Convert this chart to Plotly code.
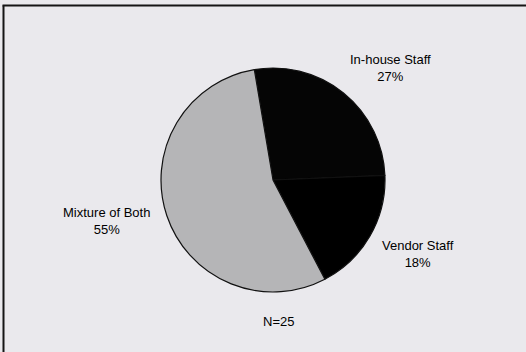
import plotly.graph_objects as go

categories = ["In-house Staff", "Vendor Staff", "Mixture of Both"]
values = [27, 18, 55]
note = "N=25"

W, H = 526, 352
colors = ["#050505", "#000000", "#b5b5b7"]

fig = go.Figure()
fig.add_trace(go.Pie(
    labels=categories,
    values=values,
    sort=False,
    direction="clockwise",
    rotation=-9.6,
    textinfo="none",
    hoverinfo="label+percent",
    marker=dict(colors=colors, line=dict(color="#111111", width=1.2)),
    domain=dict(x=[161 / W, 385 / W], y=[(H - 292) / H, (H - 68) / H]),
    showlegend=False,
))

label_pos = [(390, 68), (418, 254), (106, 221)]
total = sum(values)
for cat, val, (px, py) in zip(categories, values, label_pos):
    fig.add_annotation(
        x=px / W, y=1 - py / H, xref="paper", yref="paper",
        xanchor="center", yanchor="middle",
        text=f"{cat}<br>{round(val / total * 100)}%",
        showarrow=False, align="center",
        font=dict(family="Liberation Sans, Arial", size=13, color="#000000"),
    )
fig.add_annotation(
    x=278 / W, y=1 - 321 / H, xref="paper", yref="paper",
    xanchor="center", yanchor="middle",
    text=note, showarrow=False,
    font=dict(family="Liberation Sans, Arial", size=13, color="#000000"),
)

# frame lines (left and top)
fig.add_shape(type="line", xref="paper", yref="paper",
              x0=3.5 / W, y0=0, x1=3.5 / W, y1=1 - 5.5 / H,
              line=dict(color="#151515", width=2))
fig.add_shape(type="line", xref="paper", yref="paper",
              x0=2.5 / W, y0=1 - 5.5 / H, x1=1, y1=1 - 5.5 / H,
              line=dict(color="#151515", width=2))

fig.update_layout(
    width=W, height=H,
    margin=dict(l=0, r=0, t=0, b=0),
    paper_bgcolor="#eae9ed",
    plot_bgcolor="#eae9ed",
)

fig.write_html(
    "out.html",
    config={"displayModeBar": False},
    post_script="document.body.style.margin='0';document.body.style.overflow='hidden';",
)
